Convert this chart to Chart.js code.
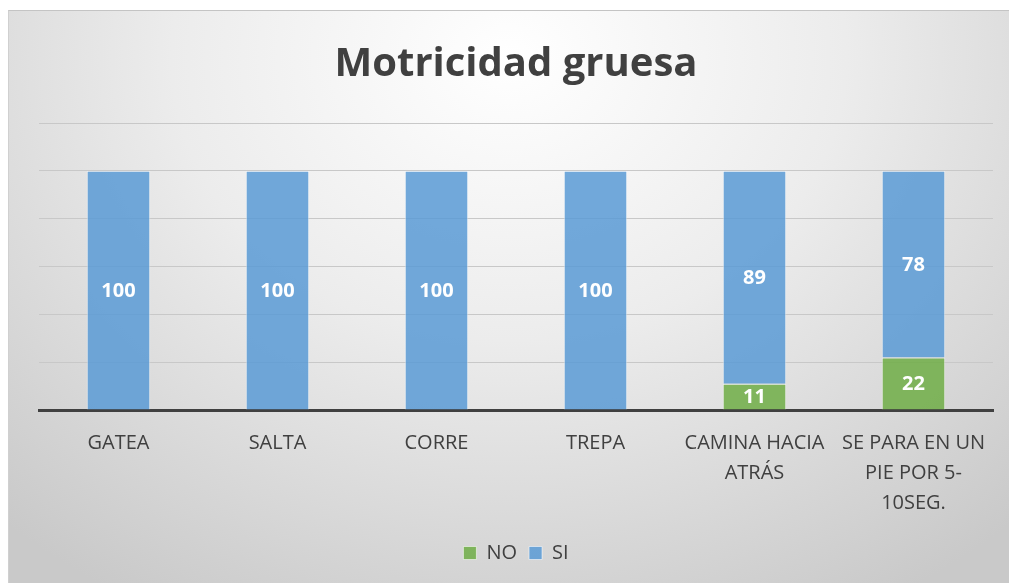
<!DOCTYPE html>
<html>
<head>
<meta charset="utf-8">
<script src="https://cdn.jsdelivr.net/npm/chart.js@4/dist/chart.umd.min.js"></script>
<style>
  html, body { margin: 0; padding: 0; background: #ffffff; }
  #frame {
    position: absolute; left: 8px; top: 10px; width: 1001px; height: 573px;
    border-top: 1px solid #c4c4c4; border-left: 1px solid #d0d0d0;
    box-sizing: border-box;
    background: radial-gradient(ellipse 75% 110% at 50% 8%, #ffffff 0%, #ececec 45%, #c9c9c9 100%);
  }
  #myChart { display: block; }
</style>
</head>
<body>
<div id="frame"><canvas id="myChart" width="1000" height="572"></canvas></div>
<script>
//-----------------------------------
// chart data
//-----------------------------------
var categories = ['GATEA', 'SALTA', 'CORRE', 'TREPA', ['CAMINA HACIA', 'ATRÁS'], ['SE PARA EN UN', 'PIE POR 5-', '10SEG.']];
var noValues = [0, 0, 0, 0, 11, 22];
var siValues = [100, 100, 100, 100, 89, 78];
var yTicks = [0, 20, 40, 60, 80, 100, 120];

var fontName = '"Open Sans", "DejaVu Sans", sans-serif';
var textColor = '#404040';

//---------------------------------------------------------
// draw the white numbers in the middle of every segment
//---------------------------------------------------------
const segmentLabels = {
  id: 'segmentLabels',
  afterDatasetsDraw(chart) {
    const ctx = chart.ctx;
    ctx.save();
    ctx.font = 'bold 20px ' + fontName;
    ctx.fillStyle = '#ffffff';
    ctx.textAlign = 'center';
    ctx.textBaseline = 'middle';
    chart.data.datasets.forEach(function (ds, i) {
      const meta = chart.getDatasetMeta(i);
      meta.data.forEach(function (bar, j) {
        const v = ds.data[j];
        if (!v) return;
        const mid = (bar.y + bar.base) / 2;
        ctx.fillText(String(v), bar.x, mid + 1);
      });
    });
    ctx.restore();
  }
};

const data = {
  labels: categories,
  datasets: [{
    label: 'NO',
    data: noValues,
    backgroundColor: 'rgba(112,173,71,0.86)',
    borderColor: 'rgba(255,255,255,0.55)',
    borderWidth: 1
  }, {
    label: 'SI',
    data: siValues,
    backgroundColor: 'rgba(91,155,213,0.86)',
    borderColor: 'rgba(255,255,255,0.55)',
    borderWidth: 1
  }]
};

const config = {
  type: 'bar',
  data: data,
  options: {
    responsive: false,
    animation: false,
    barPercentage: 0.4,
    categoryPercentage: 1,
    layout: { padding: { left: 30, right: 16, bottom: 10 } },
    scales: {
      x: {
        stacked: true,
        grid: { display: false },
        border: { display: true, color: '#404040', width: 3 },
        afterFit: function (axis) { axis.height += 3; },
        ticks: {
          color: textColor,
          font: { family: fontName, size: 20, lineHeight: 1.5 },
          padding: 10,
          maxRotation: 0,
          autoSkip: false
        }
      },
      y: {
        stacked: true,
        min: 0,
        max: 120,
        afterBuildTicks: function (axis) {
          axis.ticks = yTicks.map(function (v) { return { value: v }; });
        },
        afterFit: function (axis) { axis.width = 0; },
        grid: { color: '#c8c8c8', lineWidth: 1, drawTicks: false },
        border: { display: false },
        ticks: { display: false }
      }
    },
    plugins: {
      title: {
        display: true,
        text: 'Motricidad gruesa',
        color: textColor,
        font: { family: fontName, size: 40, weight: 'bold' },
        padding: { top: 30, bottom: 34 }
      },
      legend: {
        position: 'bottom',
        labels: {
          color: textColor,
          font: { family: fontName, size: 20 },
          boxWidth: 13,
          boxHeight: 13,
          padding: 12
        }
      },
      tooltip: { enabled: false }
    }
  },
  plugins: [segmentLabels]
};

//launch the chart
const myChart = new Chart(document.getElementById('myChart'), config);
</script>
</body>
</html>
